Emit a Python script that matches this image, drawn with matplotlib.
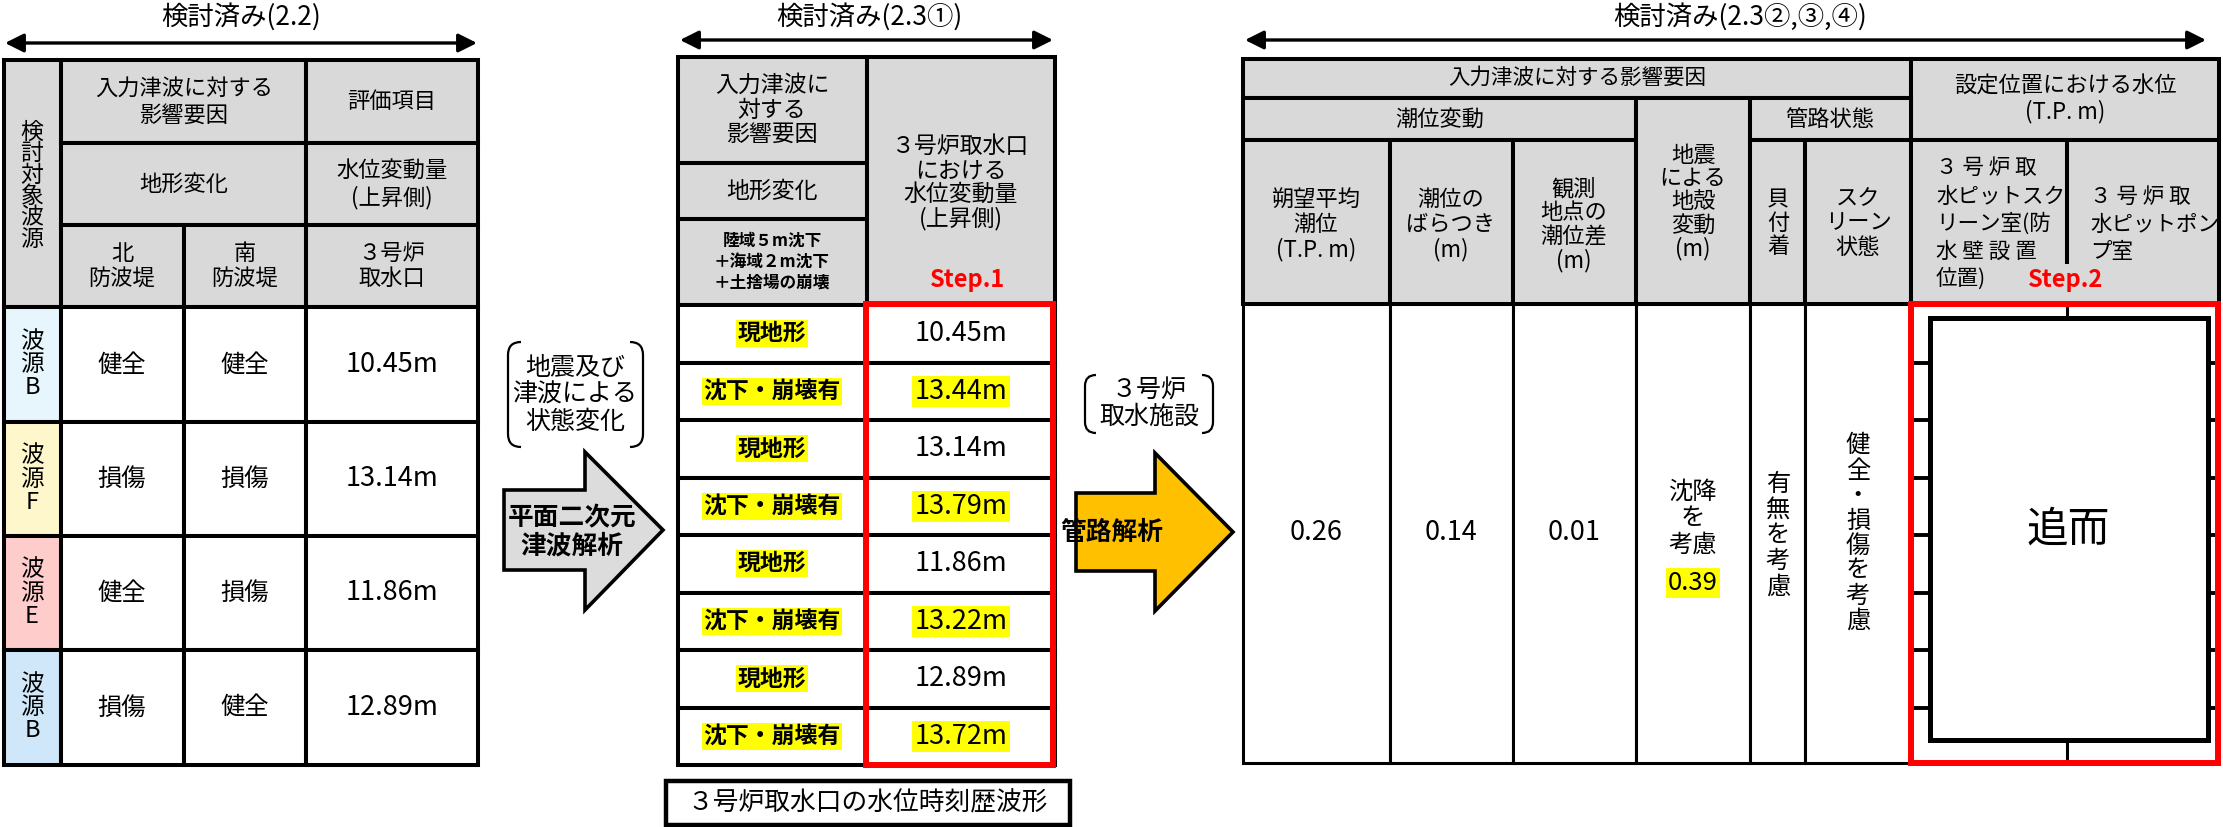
import matplotlib
matplotlib.use("Agg")
import matplotlib.pyplot as plt
from matplotlib.patches import Rectangle, Polygon, PathPatch
from matplotlib.path import Path

plt.rcParams['font.family'] = ['Noto Sans CJK JP', 'DejaVu Sans']

# ---- data ----
left_sources = ['B', 'F', 'E', 'B']
north_breakwater = ['健全', '損傷', '健全', '損傷']
south_breakwater = ['健全', '損傷', '損傷', '健全']
intake_rise = [10.45, 13.14, 11.86, 12.89]

terrain_labels = ['現地形', '沈下・崩壊有', '現地形', '沈下・崩壊有',
                  '現地形', '沈下・崩壊有', '現地形', '沈下・崩壊有']
terrain_rise = [10.45, 13.44, 13.14, 13.79, 11.86, 13.22, 12.89, 13.72]

tide_values = [0.26, 0.14, 0.01]
crust_subsidence = 0.39

# ---- style ----
GRAY = '#D9D9D9'
YELLOW = '#FFFF00'
RED = '#FF0000'
ORANGE = '#FFC000'
source_colors = ['#E6F6FC', '#FFF7CC', '#FFCCCC', '#CFE7F8']
LW = 2.9

fig = plt.figure(figsize=(22.23, 8.27), dpi=100)
ax = fig.add_axes([0, 0, 1, 1])
ax.set_xlim(0, 2223)
ax.set_ylim(827, 0)
ax.axis('off')


def cell(x0, y0, x1, y1, fc='white', lw=LW):
    ax.add_patch(Rectangle((x0, y0), x1 - x0, y1 - y0, fc=fc, ec='black', lw=lw, zorder=1))


def txt(x, y, s, size=15.5, ls=1.15, **kw):
    kw.setdefault('ha', 'center')
    ax.text(x, y, s, va='center', fontsize=size, linespacing=ls, zorder=5, **kw)


def vtxt(x, y, s, size=15.5, ls=1.0, **kw):
    txt(x, y, '\n'.join(s), size=size, ls=ls, **kw)


def hl(x, y, s, size, **kw):
    ax.text(x, y, s, ha='center', va='center', fontsize=size, zorder=5,
            bbox=dict(boxstyle='square,pad=0.08', fc=YELLOW, ec='none'), **kw)


def span_arrow(x0, x1, y, both=True):
    style = '<|-|>' if both else '-|>'
    ax.annotate('', xy=(x1, y), xytext=(x0, y),
                arrowprops=dict(arrowstyle=style, lw=2.4, color='black',
                                mutation_scale=28, shrinkA=0, shrinkB=0))


def bracket(x0, x1, y0, y1, r):
    c = [Path.MOVETO, Path.CURVE3, Path.CURVE3, Path.LINETO, Path.CURVE3, Path.CURVE3]
    for a, d in ((x0, 1), (x1, -1)):
        p = Path([(a + d * r, y0), (a, y0), (a, y0 + r), (a, y1 - r), (a, y1), (a + d * r, y1)], c)
        ax.add_patch(PathPatch(p, fc='none', ec='black', lw=1.6))


# ================= left table =================
span_arrow(5, 477, 43)
txt(241, 17, '検討済み(2.2)', 19)
lx = [4, 61, 184, 306, 478]
ly = [60, 143, 225, 307, 422, 536, 650, 765]
cell(lx[0], ly[0], lx[1], ly[3], GRAY)
cell(lx[1], ly[0], lx[3], ly[1], GRAY)
cell(lx[3], ly[0], lx[4], ly[1], GRAY)
cell(lx[1], ly[1], lx[3], ly[2], GRAY)
cell(lx[3], ly[1], lx[4], ly[2], GRAY)
cell(lx[1], ly[2], lx[2], ly[3], GRAY)
cell(lx[2], ly[2], lx[3], ly[3], GRAY)
cell(lx[3], ly[2], lx[4], ly[3], GRAY)
vtxt(32, 186, '検討対象波源', 16.5, 0.92)
txt(184, 102, '入力津波に対する\n影響要因', 16, 1.2)
txt(392, 102, '評価項目', 16)
txt(184, 184, '地形変化', 16)
txt(392, 184, '水位変動量\n(上昇側)', 16, 1.2)
txt(122, 266, '北\n防波堤', 16, 1.15)
txt(245, 266, '南\n防波堤', 16, 1.15)
txt(392, 266, '３号炉\n取水口', 16, 1.15)
for i in range(4):
    y0, y1 = ly[3 + i], ly[4 + i]
    yc = (y0 + y1) / 2
    cell(lx[0], y0, lx[1], y1, source_colors[i])
    cell(lx[1], y0, lx[2], y1)
    cell(lx[2], y0, lx[3], y1)
    cell(lx[3], y0, lx[4], y1)
    txt(32, yc, '波\n源\n' + left_sources[i], 17, 1.02)
    txt(122, yc, north_breakwater[i], 17.5)
    txt(245, yc, south_breakwater[i], 17.5)
    txt(392, yc, f'{intake_rise[i]:.2f}m', 19.5)

# ================= middle: bracket + grey arrow =================
bracket(508, 643, 342, 447, 13)
txt(575, 395, '地震及び\n津波による\n状態変化', 18, 1.05)
ax.add_patch(Polygon([(504, 490), (585, 490), (585, 452), (663, 530), (585, 610),
                      (585, 570), (504, 570)], closed=True, fc='#DCDCDC', ec='black', lw=2.6))
txt(572, 532, '平面二次元\n津波解析', 18.5, 1.08, fontweight='bold')

# ================= middle table =================
span_arrow(680, 1053, 40)
txt(869, 17, '検討済み(2.3①)', 19)
mx = [678, 867, 1055]
my_head = [57, 163, 219, 305]
row_h = 57.5
cell(mx[0], my_head[0], mx[1], my_head[1], GRAY)
cell(mx[0], my_head[1], mx[1], my_head[2], GRAY)
cell(mx[0], my_head[2], mx[1], my_head[3], GRAY)
cell(mx[1], my_head[0], mx[2], my_head[3], GRAY)
txt(772, 110, '入力津波に\n対する\n影響要因', 16.5, 1.1)
txt(772, 191, '地形変化', 16.5)
txt(772, 262, '陸域５m沈下\n＋海域２m沈下\n＋土捨場の崩壊', 12, 1.2, fontweight='bold')
txt(961, 183, '３号炉取水口\nにおける\n水位変動量\n(上昇側)', 16.5, 1.05)
txt(968, 280, 'Step.1', 17, color=RED, fontweight='bold')
for i, (lab, val) in enumerate(zip(terrain_labels, terrain_rise)):
    y0 = my_head[3] + i * row_h
    yc = y0 + row_h / 2
    cell(mx[0], y0, mx[1], y0 + row_h)
    cell(mx[1], y0, mx[2], y0 + row_h)
    hl(772, yc, lab, 16.5, fontweight='bold')
    if lab == '現地形':
        txt(961, yc, f'{val:.2f}m', 19.5)
    else:
        hl(961, yc, f'{val:.2f}m', 19.5)
mid_bottom = my_head[3] + len(terrain_rise) * row_h
ax.add_patch(Rectangle((866, 304), 1053 - 866, mid_bottom - 304, fc='none', ec=RED, lw=4.3, zorder=4))
ax.add_patch(Rectangle((666, 781), 1070 - 666, 825 - 781, fc='white', ec='black', lw=3.2, zorder=1))
txt(868, 803, '３号炉取水口の水位時刻歴波形', 18.5)

# ================= right: bracket + orange arrow =================
bracket(1085, 1213, 375, 433, 11)
txt(1149, 404, '３号炉\n取水施設', 18, 1.0)
ax.add_patch(Polygon([(1076, 493), (1155, 493), (1155, 453), (1233, 532), (1155, 611),
                      (1155, 571), (1076, 571)], closed=True, fc=ORANGE, ec='black', lw=2.6))
txt(1112, 532, '管路解析', 18.5, fontweight='bold')

# ================= right table =================
span_arrow(1245, 2206, 40)
txt(1740, 17, '検討済み(2.3②,③,④)', 19)
rx = [1243, 1390, 1513, 1636, 1750, 1805, 1911, 2067, 2219]
ry = [59, 98, 140, 304, 763]
cell(rx[0], ry[0], rx[6], ry[1], GRAY)
cell(rx[6], ry[0], rx[8], ry[2], GRAY)
cell(rx[0], ry[1], rx[3], ry[2], GRAY)
cell(rx[3], ry[1], rx[4], ry[3], GRAY)
cell(rx[4], ry[1], rx[6], ry[2], GRAY)
for j in (0, 1, 2, 4, 5):
    cell(rx[j], ry[2], rx[j + 1], ry[3], GRAY)
cell(rx[6], ry[2], rx[8], ry[3], GRAY)
ax.plot([rx[7], rx[7]], [ry[2], 262], color='black', lw=LW, zorder=2)
txt(1577, 78, '入力津波に対する影響要因', 15.5)
txt(2065, 99, '設定位置における水位\n(T.P. m)', 16, 1.12)
txt(1440, 119, '潮位変動', 16)
txt(1693, 202, '地震\nによる\n地殻\n変動\n(m)', 16, 1.02)
txt(1830, 119, '管路状態', 16)
txt(1316, 225, '朔望平均\n潮位\n(T.P. m)', 16, 1.1)
txt(1451, 225, '潮位の\nばらつき\n(m)', 16, 1.1)
txt(1574, 225, '観測\n地点の\n潮位差\n(m)', 16, 1.05)
vtxt(1778, 223, '貝付着', 16, 1.02)
txt(1858, 223, 'スク\nリーン\n状態', 16, 1.08)
screen_room = ['３ 号 炉 取', '水ピットスク', 'リーン室(防', '水 壁 設 置', '位置)']
for s, yy in zip(screen_room, [168, 197, 224, 252, 279]):
    txt(1936, yy, s, 15.5, ha='left')
pump_room = ['３ 号 炉 取', '水ピットポン', 'プ室']
for s, yy in zip(pump_room, [197, 225, 252]):
    txt(2090, yy, s, 15.5, ha='left')
txt(2066, 280, 'Step.2', 17, color=RED, fontweight='bold')

# body row
for j in range(6):
    cell(rx[j], ry[3], rx[j + 1], ry[4], lw=2.2)
cell(rx[6], ry[3], rx[8], ry[4], lw=2.2)
for j, v in enumerate(tide_values):
    txt((rx[j] + rx[j + 1]) / 2, 533, f'{v:.2f}', 19.5)
txt(1693, 518, '沈降\nを\n考慮', 17.5, 1.02)
hl(1693, 583, f'{crust_subsidence:.2f}', 18.5)
vtxt(1778, 535, '有無を考慮', 17.5, 0.98)
vtxt(1858, 533, '健全・損傷を考慮', 17.5, 0.95)

# red Step.2 box with inner frame
ax.add_patch(Rectangle((1930, 318), 2208 - 1930, 740 - 318, fc='white', ec='black', lw=3.6, zorder=3))
for k in range(1, 8):
    yk = my_head[3] + k * row_h
    ax.plot([1911, 1930], [yk, yk], color='black', lw=2.8, zorder=3)
    ax.plot([2208, 2219], [yk, yk], color='black', lw=2.8, zorder=3)
ax.plot([rx[7], rx[7]], [304, 318], color='black', lw=2.2, zorder=3)
ax.plot([rx[7], rx[7]], [740, 763], color='black', lw=2.2, zorder=3)
ax.add_patch(Rectangle((1911, 304), 2218 - 1911, 763 - 304, fc='none', ec=RED, lw=4.3, zorder=4))
txt(2068, 530, '追而', 30)

fig.savefig('out.png', dpi=100, facecolor='white')
